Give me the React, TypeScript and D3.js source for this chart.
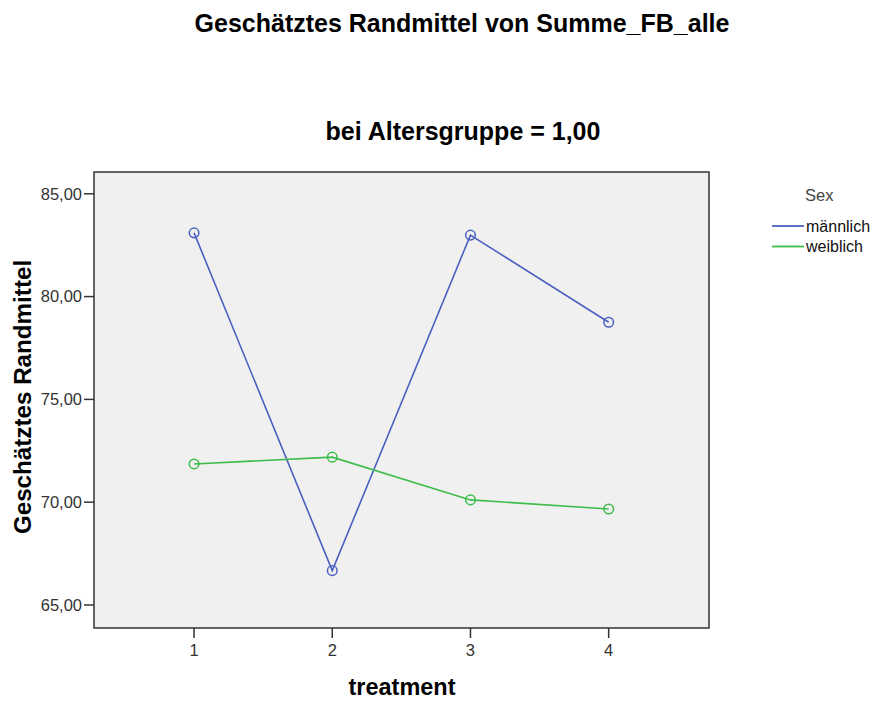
import React from "react";
import * as d3 from "d3";

const treatments = [1, 2, 3, 4];
const maleValues = [83.1, 66.67, 82.99, 78.75];
const femaleValues = [71.86, 72.19, 70.11, 69.67];
const yTicks = [65, 70, 75, 80, 85];
const seriesNames = ["männlich", "weiblich"];
const seriesColors = ["#4b60c0", "#3dbd4a"];

const W = 875;
const H = 702;
const plot = { left: 94, right: 709, top: 172, bottom: 628 };
const FONT = "'Liberation Sans', Arial, sans-serif";

export default function App() {
  const x = d3.scaleLinear().domain([0.276, 4.726]).range([plot.left, plot.right]);
  const y = d3.scaleLinear().domain([63.88, 86.06]).range([plot.bottom, plot.top]);
  const line = d3
    .line<[number, number]>()
    .x((d) => x(d[0]))
    .y((d) => y(d[1]));
  const series = [maleValues, femaleValues].map((vals, i) => ({
    name: seriesNames[i],
    color: seriesColors[i],
    pts: treatments.map((t, j) => [t, vals[j]] as [number, number]),
  }));
  const fmt = (v: number) => v.toFixed(2).replace(".", ",");

  return (
    <svg
      width={W}
      height={H}
      style={{ position: "absolute", left: 0, top: 0, background: "#fff" }}
      fontFamily={FONT}
    >
      <text x={462} y={32} textAnchor="middle" fontSize={25} fontWeight="bold" fill="#000">
        Geschätztes Randmittel von Summe_FB_alle
      </text>
      <text x={463} y={140} textAnchor="middle" fontSize={25} fontWeight="bold" fill="#000">
        bei Altersgruppe = 1,00
      </text>

      <rect
        x={plot.left}
        y={plot.top}
        width={plot.right - plot.left}
        height={plot.bottom - plot.top}
        fill="#f0f0f0"
        stroke="#333"
        strokeWidth={1.5}
      />

      {yTicks.map((t) => (
        <g key={t}>
          <line x1={plot.left - 10} x2={plot.left} y1={y(t)} y2={y(t)} stroke="#333" strokeWidth={1.5} />
          <text x={plot.left - 12} y={y(t)} dy="0.35em" textAnchor="end" fontSize={16.5} fill="#333">
            {fmt(t)}
          </text>
        </g>
      ))}
      {treatments.map((t) => (
        <g key={t}>
          <line x1={x(t)} x2={x(t)} y1={plot.bottom} y2={plot.bottom + 10} stroke="#333" strokeWidth={1.5} />
          <text x={x(t)} y={656} textAnchor="middle" fontSize={16.5} fill="#333">
            {t}
          </text>
        </g>
      ))}

      <text
        transform={`translate(31,397) rotate(-90)`}
        textAnchor="middle"
        fontSize={24.2}
        fontWeight="bold"
        fill="#000"
      >
        Geschätztes Randmittel
      </text>
      <text x={402} y={695} textAnchor="middle" fontSize={23.5} fontWeight="bold" fill="#000">
        treatment
      </text>

      {series.map((s) => (
        <g key={s.name}>
          <path d={line(s.pts) || ""} fill="none" stroke={s.color} strokeWidth={1.6} />
          {s.pts.map((p, i) => (
            <circle key={i} cx={x(p[0])} cy={y(p[1])} r={4.8} fill="none" stroke={s.color} strokeWidth={1.5} />
          ))}
        </g>
      ))}

      <text x={805} y={201} fontSize={16.5} fill="#444">
        Sex
      </text>
      {series.map((s, i) => (
        <g key={s.name}>
          <line x1={772} x2={804} y1={226 + i * 20.5} y2={226 + i * 20.5} stroke={s.color} strokeWidth={1.8} />
          <text x={806} y={226 + i * 20.5} dy="0.35em" fontSize={16} fill="#111">
            {s.name}
          </text>
        </g>
      ))}
    </svg>
  );
}
